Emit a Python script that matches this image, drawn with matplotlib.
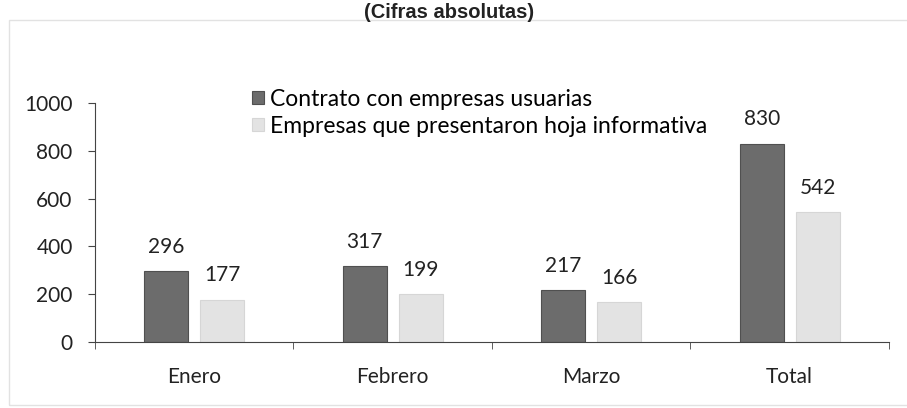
import numpy as np
import matplotlib
matplotlib.use("Agg")
import matplotlib.pyplot as plt
from matplotlib.patches import Rectangle

categories = ["Enero", "Febrero", "Marzo", "Total"]
contratos = [296, 317, 217, 830]
hojas = [177, 199, 166, 542]
series_names = ["Contrato con empresas usuarias",
                "Empresas que presentaron hoja informativa"]
yticks = [0, 200, 400, 600, 800, 1000]

plt.rcParams["font.family"] = ["Lato", "DejaVu Sans"]
FS = 15

fig = plt.figure(figsize=(9.07, 4.08), dpi=100)
# outer chart frame (faint border of the scanned chart area)
fig.patches.append(Rectangle((0.01, 0.008), 1.0, 0.943, transform=fig.transFigure,
                             fill=False, edgecolor="#e2e2e2", lw=1))
fig.text(0.495, 0.957, "(Cifras absolutas)", ha="center", va="baseline",
         fontsize=14.5, fontweight="bold", color="#222222",
         family=["Liberation Sans"])

ax = fig.add_axes([0.1047, 0.1618, 0.8754, 0.5858])
x = np.arange(len(categories))
w = 0.222
off = 0.141
b1 = ax.bar(x - off, contratos, w, color="#6c6c6c", edgecolor="#505050", lw=0.8,
            label=series_names[0])
b2 = ax.bar(x + off, hojas, w, color="#e3e3e3", edgecolor="#d6d6d6", lw=0.8,
            label=series_names[1])
for rect, v in zip(list(b1) + list(b2), contratos + hojas):
    ax.annotate(str(v), (rect.get_x() + rect.get_width() / 2, v),
                xytext=(0, 17.5), textcoords="offset points",
                ha="center", va="center", fontsize=FS, color="#222222")

ax.set_xlim(-0.5, len(categories) - 0.5)
ax.set_ylim(0, 1000)
ax.set_yticks(yticks)
ax.set_xticks(x)
ax.set_xticklabels(categories)
ax.set_xticks(np.arange(len(categories) + 1) - 0.5, minor=True)
ax.tick_params(axis="x", which="major", length=0, pad=18, labelsize=FS,
               labelcolor="#222222")
ax.tick_params(axis="x", which="minor", length=5, direction="out", color="#444444")
ax.tick_params(axis="y", length=5, direction="out", labelsize=FS, pad=11,
               color="#444444", labelcolor="#222222")
for s in ["top", "right"]:
    ax.spines[s].set_visible(False)
ax.spines["left"].set_color("#444444")
ax.spines["bottom"].set_color("#444444")

fig.legend(handles=[b1, b2], labels=series_names, loc="upper left",
           bbox_to_anchor=(0.278, 0.782), frameon=False,
           fontsize=16.5, handlelength=0.5, handleheight=0.5, handletextpad=0.3,
           labelspacing=0.25, borderaxespad=0, borderpad=0)

fig.savefig("out.png", dpi=100)
plt.close(fig)
